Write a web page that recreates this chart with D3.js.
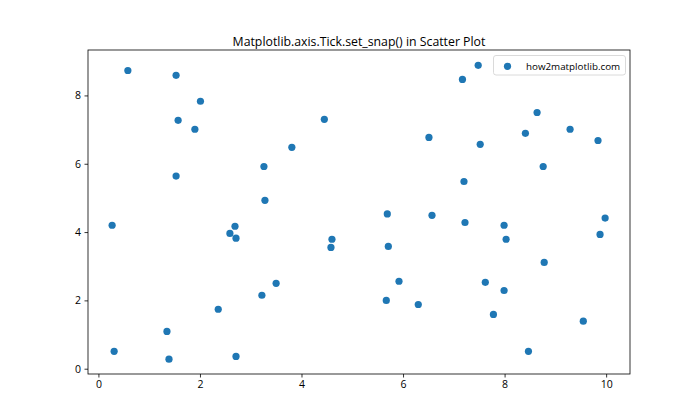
<!DOCTYPE html>
<html><head><meta charset="utf-8">
<script src="https://cdn.jsdelivr.net/npm/d3@7"></script>
<style>body{margin:0;background:#fff;} text{font-family:"Open Sans","Noto Sans",sans-serif;}</style>
</head><body>
<svg id="c" width="700" height="420"></svg>
<script>
const xValues = [0.58,1.53,2.01,1.57,1.90,4.45,3.81,3.26,1.53,3.28,
  7.48,7.17,8.64,6.51,8.41,9.29,7.52,9.84,8.76,7.20,
  0.27,2.69,2.59,2.71,4.60,4.58,3.50,3.22,2.36,1.35,0.31,1.39,2.71,
  5.69,6.57,7.22,7.99,9.98,9.88,8.03,5.71,8.78,5.92,7.62,7.99,5.67,6.30,7.78,9.55,8.47];
const yValues = [8.73,8.59,7.83,7.27,7.01,7.30,6.48,5.92,5.64,4.93,
  8.88,8.47,7.50,6.77,6.89,7.01,6.57,6.68,5.92,5.48,
  4.20,4.17,3.96,3.82,3.79,3.55,2.50,2.15,1.74,1.09,0.51,0.28,0.36,
  4.53,4.49,4.28,4.20,4.41,3.93,3.79,3.58,3.11,2.56,2.53,2.29,2.00,1.88,1.59,1.39,0.51];
const xTicks = [0,2,4,6,8,10];
const yTicks = [0,2,4,6,8];
const title = "Matplotlib.axis.Tick.set_snap() in Scatter Plot";
const legendLabel = "how2matplotlib.com";
const color = "#1f77b4";

const svg = d3.select("#c");
const L=88, R=630, T=50, B=374;
const x = d3.scaleLinear().domain([-0.205,10.47]).range([L,R]);
const y = d3.scaleLinear().domain([-0.155,9.33]).range([B,T]);

const xAxis = svg.append("g").attr("transform",`translate(0,${B})`)
  .call(d3.axisBottom(x).tickValues(xTicks).tickSize(3.5).tickPadding(3.5).tickFormat(d3.format("d")));
const yAxis = svg.append("g").attr("transform",`translate(${L},0)`)
  .call(d3.axisLeft(y).tickValues(yTicks).tickSize(3.5).tickPadding(3.5).tickFormat(d3.format("d")));
[xAxis,yAxis].forEach(g=>{
  g.select(".domain").remove();
  g.selectAll("line").attr("stroke","#000").attr("stroke-width",0.8);
  g.selectAll("text").attr("font-family","'Open Sans','Noto Sans',sans-serif").attr("font-size",10.5).attr("fill","#000");
});

svg.append("rect").attr("x",L).attr("y",T).attr("width",R-L).attr("height",B-T)
  .attr("fill","none").attr("stroke","#000").attr("stroke-width",0.8);

svg.append("g").selectAll("circle").data(xValues.map((v,i)=>[v,yValues[i]])).join("circle")
  .attr("cx",d=>x(d[0])).attr("cy",d=>y(d[1])).attr("r",3.6).attr("fill",color);

svg.append("text").attr("x",(L+R)/2).attr("y",46).attr("text-anchor","middle")
  .attr("font-size",12.3).attr("fill","#000").text(title);

const lg = svg.append("g");
lg.append("rect").attr("x",493.5).attr("y",55.5).attr("width",132).attr("height",19.5)
  .attr("rx",2.5).attr("fill","#fff").attr("fill-opacity",0.8).attr("stroke","#d0d0d0").attr("stroke-width",0.8);
lg.append("circle").attr("cx",507.5).attr("cy",66.3).attr("r",3.6).attr("fill",color);
lg.append("text").attr("x",526).attr("y",69.5).attr("font-size",9.8).attr("fill","#000").text(legendLabel);
</script>
</body></html>
